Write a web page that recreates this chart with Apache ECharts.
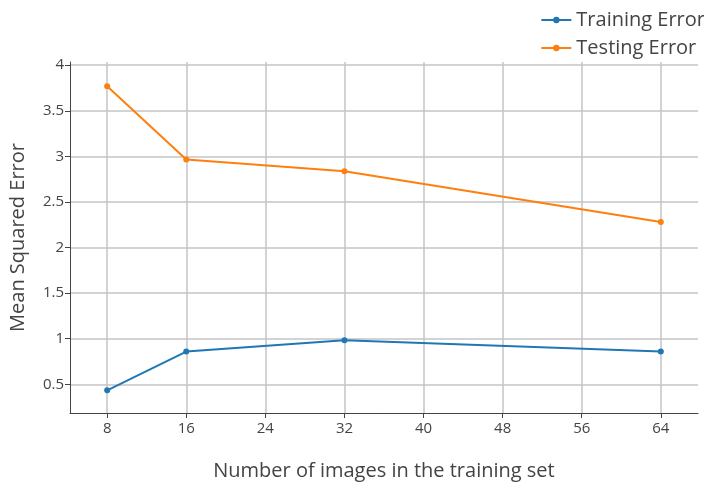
<!DOCTYPE html>
<html>
<head>
<meta charset="utf-8">
<script src="https://cdn.jsdelivr.net/npm/echarts@6/dist/echarts.min.js"></script>
<style>html,body{margin:0;padding:0;background:#fff}#c{width:704px;height:482px}</style>
</head>
<body>
<div id="c"></div>
<script>
const xValues = [8, 16, 32, 64];
const trainingError = [0.434, 0.859, 0.983, 0.859];
const testingError = [3.77, 2.965, 2.837, 2.281];
const xTicks = [8, 16, 24, 32, 40, 48, 56, 64];
const yTicks = [0.5, 1, 1.5, 2, 2.5, 3, 3.5, 4];
const seriesNames = ['Training Error', 'Testing Error'];

const font = '"Open Sans", sans-serif';
const chart = echarts.init(document.getElementById('c'), null, {renderer: 'canvas'});
const pair = (xs, ys) => xs.map((x, i) => [x, ys[i]]);
const gridColor = '#c4c4c4';

chart.setOption({
  animation: false,
  color: ['#1f77b4', '#ff7f0e'],
  textStyle: {fontFamily: font},
  grid: {left: 70, right: 6, top: 62, bottom: 69, containLabel: false, outerBoundsMode: 'none'},
  legend: {
    orient: 'vertical', right: -6, top: 5, padding: 5,
    itemWidth: 30, itemHeight: 8, itemGap: 8, align: 'left',
    textStyle: {fontSize: 20, color: '#444', fontFamily: font},
    data: seriesNames
  },
  xAxis: {
    type: 'value', min: 4.24, max: 67.76,
    name: 'Number of images in the training set',
    nameLocation: 'middle', nameGap: 48,
    nameTextStyle: {fontSize: 20, color: '#444', fontFamily: font},
    axisLine: {show: true, lineStyle: {color: '#444', width: 1}},
    axisTick: {show: true, length: 5, inside: false, lineStyle: {color: '#444'}, customValues: xTicks},
    axisLabel: {fontSize: 15, color: '#444', margin: 8, fontFamily: font, customValues: xTicks},
    splitLine: {show: true, lineStyle: {color: gridColor, width: 1.5}}
  },
  yAxis: {
    type: 'value', min: 0.185, max: 4.035,
    name: 'Mean Squared Error',
    nameLocation: 'middle', nameGap: 42,
    nameTextStyle: {fontSize: 20, color: '#444', fontFamily: font},
    axisLine: {show: true, lineStyle: {color: '#444', width: 1}},
    axisTick: {show: true, length: 5, inside: false, lineStyle: {color: '#444'}, customValues: yTicks},
    axisLabel: {fontSize: 15, color: '#444', margin: 6, fontFamily: font, customValues: yTicks},
    splitLine: {show: true, lineStyle: {color: gridColor, width: 1.5}}
  },
  series: [
    {
      name: seriesNames[0], type: 'line', data: pair(xValues, trainingError),
      symbol: 'circle', symbolSize: 6, lineStyle: {width: 2},
      itemStyle: {color: '#1f77b4'}
    },
    {
      name: seriesNames[1], type: 'line', data: pair(xValues, testingError),
      symbol: 'circle', symbolSize: 6, lineStyle: {width: 2},
      itemStyle: {color: '#ff7f0e'}
    }
  ]
});
</script>
</body>
</html>
